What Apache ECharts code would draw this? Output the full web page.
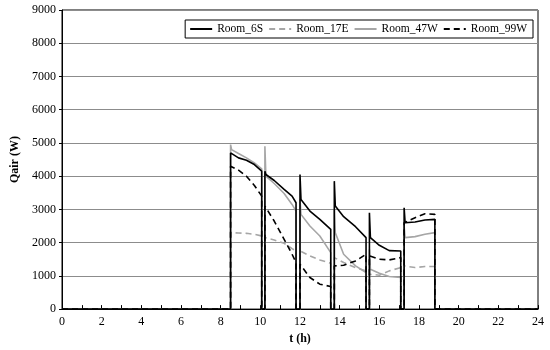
<!DOCTYPE html>
<html>
<head>
<meta charset="utf-8">
<script src="https://cdn.jsdelivr.net/npm/echarts@6/dist/echarts.min.js"></script>
<style>html,body{margin:0;padding:0;background:#fff}#c{width:550px;height:350px}</style>
</head>
<body>
<div id="c"></div>
<script>
const hours = [0, 8.5, 8.5, 8.55, 8.9, 9.3, 9.7, 10.07, 10.07, 10.23, 10.23, 10.28, 10.7, 11.2, 11.6, 11.8, 11.8, 12.0, 12.0, 12.05, 12.5, 13.0, 13.55, 13.55, 13.73, 13.73, 13.78, 14.2, 14.8, 15.33, 15.33, 15.5, 15.5, 15.55, 16.0, 16.5, 17.08, 17.08, 17.25, 17.25, 17.3, 17.8, 18.3, 18.8, 18.8, 24];
const room6S  = [0, 0, 4700, 4650, 4550, 4480, 4350, 4150, 0, 0, 4150, 4050, 3870, 3600, 3400, 3200, 0, 0, 4050, 3300, 2950, 2700, 2400, 0, 0, 3850, 3100, 2780, 2480, 2150, 0, 0, 2900, 2150, 1920, 1760, 1750, 0, 0, 3050, 2600, 2620, 2680, 2700, 0, 0];
const room17E = [0, 0, 2300, 2280, 2290, 2280, 2250, 2200, 0, 0, 2150, 2130, 2080, 1980, 1820, 1750, 0, 0, 1750, 1720, 1600, 1480, 1380, 0, 0, 1550, 1520, 1400, 1250, 1150, 0, 0, 1050, 1050, 1020, 1150, 1250, 0, 0, 1300, 1280, 1250, 1280, 1280, 0, 0];
const room47W = [0, 0, 4950, 4800, 4680, 4550, 4400, 4220, 0, 0, 4900, 4000, 3780, 3480, 3150, 2950, 0, 0, 3300, 2850, 2500, 2200, 1700, 0, 0, 3000, 2300, 1650, 1300, 1100, 0, 0, 1800, 1200, 1080, 980, 950, 0, 0, 2500, 2150, 2180, 2250, 2300, 0, 0];
const room99W = [0, 0, 4300, 4280, 4180, 4000, 3720, 3400, 0, 0, 3100, 3050, 2650, 2100, 1650, 1400, 0, 0, 1350, 1300, 950, 750, 680, 0, 0, 1300, 1280, 1320, 1450, 1650, 0, 0, 1600, 1550, 1500, 1480, 1550, 0, 0, 2600, 2600, 2750, 2870, 2850, 0, 0];
const seriesNames = ['Room_6S', 'Room_17E', 'Room_47W', 'Room_99W'];
const yTicks = [0, 1000, 2000, 3000, 4000, 5000, 6000, 7000, 8000, 9000];
const xTicks = [0, 2, 4, 6, 8, 10, 12, 14, 16, 18, 20, 22, 24];

const pair = v => hours.map((h, i) => [h, v[i]]);
const font = 'Liberation Serif';
const styles = [
  {color: '#000000', type: 'solid', width: 1.6},
  {color: '#a6a6a6', type: [6, 4], width: 1.6},
  {color: '#a6a6a6', type: 'solid', width: 1.6},
  {color: '#000000', type: [6, 4], width: 1.6}
];
const values = [room6S, room17E, room47W, room99W];

const chart = echarts.init(document.getElementById('c'), null, {renderer: 'canvas'});
chart.setOption({
  backgroundColor: '#fff',
  animation: false,
  grid: {left: 62, right: 12, top: 10, bottom: 40, show: true, borderColor: '#000', borderWidth: 1},
  legend: {
    data: seriesNames,
    top: 20, right: 17,
    itemWidth: 22, itemHeight: 10, itemGap: 5,
    padding: [3, 6, 3, 4],
    borderColor: '#000', borderWidth: 1, backgroundColor: '#fff',
    itemStyle: {opacity: 0},
    textStyle: {fontFamily: font, fontSize: 11.5, color: '#000'}
  },
  xAxis: {
    type: 'value', min: 0, max: 24, interval: 1,
    name: 't (h)', nameLocation: 'middle', nameGap: 20,
    nameTextStyle: {fontFamily: font, fontSize: 12, fontWeight: 'bold', color: '#000'},
    axisLine: {lineStyle: {color: '#000', width: 1}},
    axisTick: {inside: true, length: 4, lineStyle: {color: '#000'}},
    axisLabel: {fontFamily: font, fontSize: 12, color: '#000', margin: 7,
      formatter: v => xTicks.indexOf(v) >= 0 ? String(v) : ''},
    splitLine: {show: false}
  },
  yAxis: {
    type: 'value', min: 0, max: 9000, interval: 1000,
    name: 'Qair (W)', nameLocation: 'middle', nameGap: 29,
    nameTextStyle: {fontFamily: font, fontSize: 12, fontWeight: 'bold', color: '#000'},
    axisLine: {show: true, lineStyle: {color: '#000', width: 1}},
    axisTick: {show: true, length: 3, lineStyle: {color: '#000'}},
    axisLabel: {fontFamily: font, fontSize: 12, color: '#000', margin: 6,
      formatter: v => yTicks.indexOf(v) >= 0 ? String(v) : ''},
    splitLine: {lineStyle: {color: '#8c8c8c', width: 1}}
  },
  series: seriesNames.map((n, i) => ({
    name: n, type: 'line', data: pair(values[i]),
    showSymbol: false, symbol: 'none',
    lineStyle: styles[i], itemStyle: {color: styles[i].color},
    z: [4, 2, 3, 5][i]
  }))
});
</script>
</body>
</html>
